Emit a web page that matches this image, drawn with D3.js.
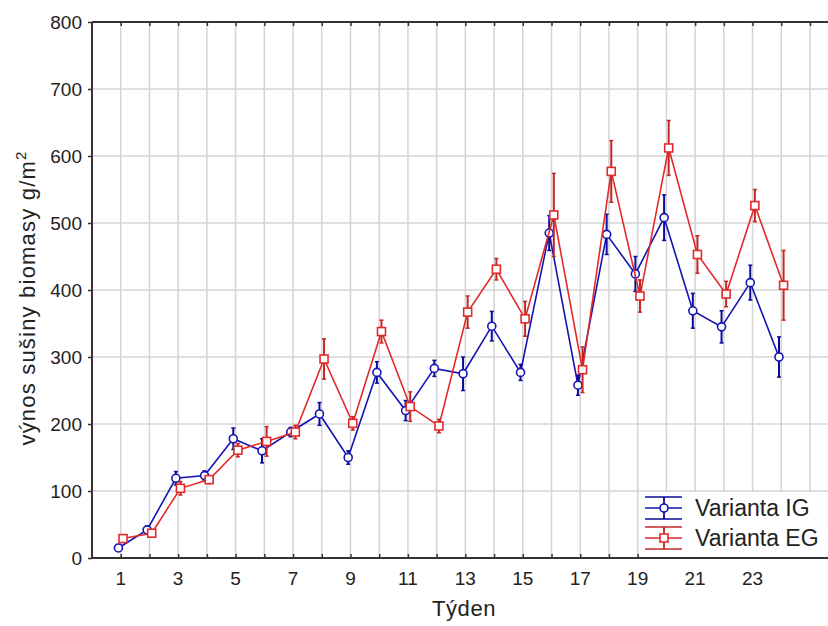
<!DOCTYPE html>
<html>
<head>
<meta charset="utf-8">
<script src="https://cdn.jsdelivr.net/npm/d3@7"></script>
<style>
  body { margin: 0; background: #fff; }
  svg { display: block; font-family: Arial, "Liberation Sans", sans-serif; }
</style>
</head>
<body>
<div id="chart"></div>
<script>
// weeks and mean values (+/- error)
var weeks = [1,2,3,4,5,6,7,8,9,10,11,12,13,14,15,16,17,18,19,20,21,22,23,24];
var igMean = [15,42,119,123,178,160,188,215,150,277,220,283,275,346,277,485,258,483,424,508,369,345,411,300];
var igErr  = [5,5,10,7,16,18,7,17,10,16,15,12,25,22,12,26,15,30,26,34,26,24,26,30];
var egMean = [29,37,104,117,161,174,188,297,201,338,226,197,367,431,357,512,281,577,391,612,453,394,526,407];
var egErr  = [4,5,10,6,10,22,10,30,10,17,22,10,24,16,26,62,34,46,24,41,28,19,24,52];
var xTickLabels = [1,3,5,7,9,11,13,15,17,19,21,23];
var yTicks = [0,100,200,300,400,500,600,700,800];
var seriesNames = ["Varianta IG", "Varianta EG"];

var drawChart = function() {
  var W = 828, H = 626;
  var pLeft = 92, pTop = 22, pBottom = 558, pRight = 830;

  var svg = d3.select("#chart").append("svg")
    .attr("width", W)
    .attr("height", H);

  var x = d3.scaleLinear().domain([0, 25]).range([pLeft, 810]);
  var y = d3.scaleLinear().domain([0, 800]).range([pBottom, pTop]);

  // grid
  var gridWeeks = d3.range(1, 26);
  svg.append("g").selectAll("line")
    .data(gridWeeks).enter().append("line")
      .attr("x1", function(d) { return x(d); })
      .attr("x2", function(d) { return x(d); })
      .attr("y1", pTop).attr("y2", pBottom)
      .attr("stroke", "#d4d4d4").attr("stroke-width", 1.5);
  svg.append("g").selectAll("line")
    .data(yTicks.slice(1, -1)).enter().append("line")
      .attr("x1", pLeft).attr("x2", pRight)
      .attr("y1", function(d) { return y(d); })
      .attr("y2", function(d) { return y(d); })
      .attr("stroke", "#d4d4d4").attr("stroke-width", 1.5);

  // axes
  var axisColor = "#333";
  svg.append("g")
    .attr("transform", "translate(0," + pBottom + ")")
    .call(d3.axisTop(x).tickValues(gridWeeks).tickSize(4).tickFormat(""))
    .call(function(g) { g.select(".domain").remove(); })
    .selectAll("line").attr("stroke", axisColor).attr("stroke-width", 1.5);
  svg.append("g")
    .attr("transform", "translate(0," + pTop + ")")
    .call(d3.axisBottom(x).tickValues(gridWeeks).tickSize(4).tickFormat(""))
    .call(function(g) { g.select(".domain").remove(); })
    .selectAll("line").attr("stroke", axisColor).attr("stroke-width", 1.5);

  var yAxis = svg.append("g")
    .attr("transform", "translate(" + pLeft + ",0)")
    .call(d3.axisLeft(y).tickValues(yTicks).tickSize(4).tickPadding(6))
    .call(function(g) { g.select(".domain").remove(); });
  yAxis.selectAll("line").attr("stroke", axisColor).attr("stroke-width", 1.5);
  yAxis.selectAll("text")
    .attr("fill", "#222")
    .style("font-family", "Arial, 'Liberation Sans', sans-serif")
    .style("font-size", "19px");

  svg.append("g").selectAll("text")
    .data(xTickLabels).enter().append("text")
      .attr("x", function(d) { return x(d); })
      .attr("y", 585)
      .attr("text-anchor", "middle")
      .attr("fill", "#222")
      .style("font-size", "19px")
      .text(function(d) { return d; });

  // frame lines
  svg.append("line").attr("x1", pLeft).attr("x2", pRight).attr("y1", pBottom).attr("y2", pBottom)
    .attr("stroke", axisColor).attr("stroke-width", 2);
  svg.append("line").attr("x1", pLeft).attr("x2", pRight).attr("y1", pTop).attr("y2", pTop)
    .attr("stroke", axisColor).attr("stroke-width", 2);
  svg.append("line").attr("x1", pLeft).attr("x2", pLeft).attr("y1", pTop).attr("y2", pBottom)
    .attr("stroke", axisColor).attr("stroke-width", 2);

  // titles
  svg.append("text")
    .attr("x", 464).attr("y", 616)
    .attr("text-anchor", "middle")
    .attr("fill", "#222")
    .style("font-size", "22px")
    .style("letter-spacing", "0.6px")
    .text("Týden");

  var yt = svg.append("text")
    .attr("transform", "translate(35,298) rotate(-90)")
    .attr("text-anchor", "middle")
    .attr("fill", "#222")
    .style("font-size", "22px")
    .style("letter-spacing", "1.2px");
  yt.append("tspan").text("výnos sušiny biomasy g/m");
  yt.append("tspan").attr("dy", -9).style("font-size", "15px").text("2");

  // series
  var blue = "#1414b4", red = "#e22a2a";
  var series = [
    { name: seriesNames[0], mean: igMean, err: igErr, color: blue, errColor: "#0a0a9a", shift: -0.08, marker: "circle" },
    { name: seriesNames[1], mean: egMean, err: egErr, color: red, errColor: "#c42626", shift: 0.08, marker: "square" }
  ];

  var line = d3.line()
    .x(function(d) { return d.x; })
    .y(function(d) { return d.y; });

  series.forEach(function(s) {
    var pts = weeks.map(function(w, i) {
      return { x: x(w + s.shift), y: y(s.mean[i]), hi: y(s.mean[i] + s.err[i]), lo: y(s.mean[i] - s.err[i]) };
    });
    var g = svg.append("g");
    g.append("path")
      .attr("d", line(pts))
      .attr("fill", "none")
      .attr("stroke", s.color)
      .attr("stroke-width", 1.6);

    var eb = g.selectAll("g.eb").data(pts).enter().append("g");
    eb.append("line")
      .attr("x1", function(d) { return d.x; }).attr("x2", function(d) { return d.x; })
      .attr("y1", function(d) { return d.hi; }).attr("y2", function(d) { return d.lo; })
      .attr("stroke", s.errColor).attr("stroke-width", 2);
    eb.append("line")
      .attr("x1", function(d) { return d.x - 2; }).attr("x2", function(d) { return d.x + 2; })
      .attr("y1", function(d) { return d.hi; }).attr("y2", function(d) { return d.hi; })
      .attr("stroke", s.errColor).attr("stroke-width", 1.5);
    eb.append("line")
      .attr("x1", function(d) { return d.x - 2; }).attr("x2", function(d) { return d.x + 2; })
      .attr("y1", function(d) { return d.lo; }).attr("y2", function(d) { return d.lo; })
      .attr("stroke", s.errColor).attr("stroke-width", 1.5);

    if (s.marker === "circle") {
      g.selectAll("circle").data(pts).enter().append("circle")
        .attr("cx", function(d) { return d.x; })
        .attr("cy", function(d) { return d.y; })
        .attr("r", 4)
        .attr("fill", "#fff")
        .attr("stroke", s.color).attr("stroke-width", 1.6);
    } else {
      g.selectAll("rect").data(pts).enter().append("rect")
        .attr("x", function(d) { return d.x - 4; })
        .attr("y", function(d) { return d.y - 4; })
        .attr("width", 8).attr("height", 8)
        .attr("fill", "#fff")
        .attr("stroke", s.color).attr("stroke-width", 1.6);
    }
  });

  // legend
  var lg = svg.append("g");
  lg.append("rect")
    .attr("x", 641).attr("y", 492).attr("width", 190).attr("height", 65)
    .attr("fill", "#fff");
  series.forEach(function(s, i) {
    var cy = 508 + i * 30;
    var row = lg.append("g");
    [-11, 0, 11].forEach(function(dy) {
      row.append("line")
        .attr("x1", 645).attr("x2", 682)
        .attr("y1", cy + dy).attr("y2", cy + dy)
        .attr("stroke", dy === 0 ? s.color : s.errColor).attr("stroke-width", 1.6);
    });
    row.append("line")
      .attr("x1", 664).attr("x2", 664)
      .attr("y1", cy - 11).attr("y2", cy + 11)
      .attr("stroke", s.errColor).attr("stroke-width", 1.8);
    if (s.marker === "circle") {
      row.append("circle").attr("cx", 664).attr("cy", cy).attr("r", 4)
        .attr("fill", "#fff").attr("stroke", s.color).attr("stroke-width", 1.6);
    } else {
      row.append("rect").attr("x", 660).attr("y", cy - 4).attr("width", 8).attr("height", 8)
        .attr("fill", "#fff").attr("stroke", s.color).attr("stroke-width", 1.6);
    }
    row.append("text")
      .attr("x", 695).attr("y", cy + 8)
      .attr("fill", "#222")
      .style("font-size", "23px")
      .text(s.name);
  });
};

drawChart();
</script>
</body>
</html>
